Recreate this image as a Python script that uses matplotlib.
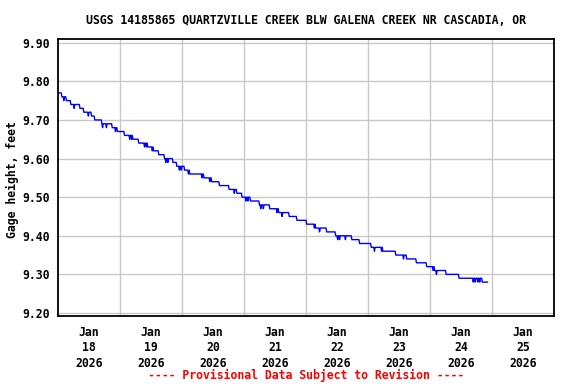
import numpy as np
import matplotlib
matplotlib.use("Agg")
import matplotlib.pyplot as plt

# gage height readings
# hours since Jan 18 00:00 at which a new 0.01 ft level starts
change_hours = [0, 1.5, 3.25, 5.25, 8.5, 10, 13, 14.5, 17, 21.25,
                23, 25.75, 29, 31.5, 34.75, 37, 39, 41.25, 44.5, 46.25,
                49, 51, 56.5, 59.5, 62.5, 66.5, 69.25, 71.5, 74.5, 78,
                82, 85.5, 89.75, 92.75, 96.25, 99.75, 104, 107.5, 113.75, 116.75,
                121.5, 125.75, 131, 135, 139, 142.75, 145.75, 150.5, 155.5, 164.25]
levels = [9.77, 9.76, 9.75, 9.74, 9.73, 9.72, 9.71, 9.70, 9.69, 9.68,
          9.67, 9.66, 9.65, 9.64, 9.63, 9.62, 9.61, 9.60, 9.59, 9.58,
          9.57, 9.56, 9.55, 9.54, 9.53, 9.52, 9.51, 9.50, 9.49, 9.48,
          9.47, 9.46, 9.45, 9.44, 9.43, 9.42, 9.41, 9.40, 9.39, 9.38,
          9.37, 9.36, 9.35, 9.34, 9.33, 9.32, 9.31, 9.30, 9.29, 9.28]
# single 15-min readings that dip one hundredth below the current level
dip_hours = [2.25, 5.0, 6.25, 11.75, 14.25, 17.25, 18.75, 21.0, 22.25, 27.75,
             28.5, 31.25, 33.5, 34.25, 36.5, 41.75, 42.5, 46.0, 47.0, 47.75,
             50.5, 55.75, 58.75, 66.25, 68.25, 71.25, 72.75, 73.5, 78.5, 79.5,
             84.75, 86.75, 89.5, 92.5, 99.25, 101.25, 108.25, 109.0, 111.25, 121.25,
             122.5, 125.25, 130.75, 133.75, 138.75, 145.25, 146.5, 150.25, 155.25, 160.75,
             161.5, 162.5, 163.25]
last_hour = 166.25

tick_labels = ["Jan\n18\n2026", "Jan\n19\n2026", "Jan\n20\n2026", "Jan\n21\n2026",
               "Jan\n22\n2026", "Jan\n23\n2026", "Jan\n24\n2026", "Jan\n25\n2026"]
y_ticks = [9.20, 9.30, 9.40, 9.50, 9.60, 9.70, 9.80, 9.90]

# build the 15 minute series from the levels
t = np.arange(0, last_hour + 0.01, 0.25)
idx = np.searchsorted(change_hours, t, side="right") - 1
h = np.array(levels)[idx]
for d in dip_hours:
    h[np.isclose(t, d)] -= 0.01

plt.rcParams["font.family"] = ["DejaVu Sans Mono"]
plt.rcParams["font.weight"] = "bold"
fs = 8.3

fig = plt.figure(figsize=(5.76, 3.84), dpi=100)
ax = fig.add_axes([58/576, 1 - 316/384, (554 - 58)/576, (316 - 39)/384])

ax.plot(t, h, color="#0000ff", lw=1.0)

ax.set_xlim(0, 192)
ax.set_ylim(9.1922, 9.9096)

ax.set_xticks([12 + 24*i for i in range(8)])
ax.set_xticklabels(tick_labels, fontsize=fs, fontweight="bold", linespacing=1.25)
ax.set_xticks([24*i for i in range(1, 8)], minor=True)
ax.set_yticks(y_ticks)
ax.set_yticklabels(["%.2f" % v for v in y_ticks], fontsize=fs, fontweight="bold")
ax.tick_params(axis="both", which="both", length=0)
ax.tick_params(axis="x", pad=7)
ax.tick_params(axis="y", pad=6)

ax.grid(which="minor", axis="x", color="#c8c8c8", lw=1)
ax.grid(which="major", axis="y", color="#c8c8c8", lw=1)
ax.set_axisbelow(True)
for s in ax.spines.values():
    s.set_linewidth(1.3)
    s.set_color("black")

fig.text(306/576, 1 - 20/384, "USGS 14185865 QUARTZVILLE CREEK BLW GALENA CREEK NR CASCADIA, OR",
         ha="center", va="center", fontsize=fs, fontweight="bold")
fig.text(12/576, 1 - 180/384, "Gage height, feet", rotation=90,
         ha="center", va="center", fontsize=fs, fontweight="bold")
fig.text(306/576, 1 - 375/384, "---- Provisional Data Subject to Revision ----",
         ha="center", va="center", fontsize=fs, fontweight="bold", color="red")

fig.savefig("out.png", dpi=100)
